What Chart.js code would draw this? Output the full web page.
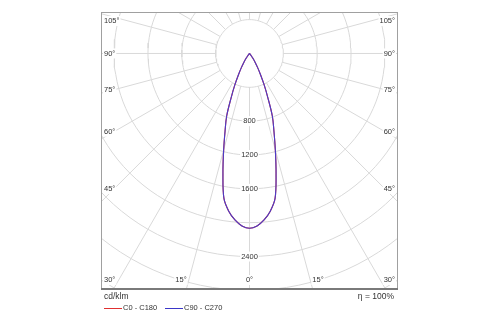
<!DOCTYPE html>
<html>
<head>
<meta charset="utf-8">
<script src="https://cdn.jsdelivr.net/npm/chart.js@4"></script>
<style>
  body { margin: 0; background: #fff; }
  canvas { display: block; }
</style>
</head>
<body>
<canvas id="polar" width="500" height="325"></canvas>
<script>
// gamma angle (deg) and intensity (cd/klm)
const gammaAngles = [0, 2.5, 5, 7.5, 10, 12.5, 15, 17.5, 20, 22.5, 25, 27.5, 30, 32.5, 35, 37.5, 40];
const intensityC0C180 = [2066, 2040, 1975, 1880, 1740, 1450, 1180, 960, 790, 570, 410, 280, 190, 125, 70, 30, 0];
const intensityC90C270 = [2066, 2040, 1975, 1880, 1740, 1450, 1180, 960, 790, 570, 410, 280, 190, 125, 70, 30, 0];

// grid
const ringValues = [400, 800, 1200, 1600, 2000, 2400, 2800, 3200, 3600, 4000];
const ringLabels = [800, 1200, 1600, 2400];
const spokeAngles = [0, 15, 30, 45, 60, 75, 90, 105, 120, 135, 150, 165, 180, 195, 210, 225, 240, 255, 270, 285, 300, 315, 330, 345];
const sideLabelAngles = [105, 90, 75, 60, 45];
const bottomLabelAngles = [30, 15, 0];

const unitLabel = "cd/klm";
const seriesNames = ["C0 - C180", "C90 - C270"];
const efficiencyLabel = "η = 100%";

const FONT = "Liberation Sans, Arial, sans-serif";
const TEXT = "#333";

function toXY(gamma, value) {
  const t = gamma * Math.PI / 180;
  return { x: value * Math.sin(t), y: -value * Math.cos(t) };
}

function curvePoints(values) {
  const pts = [];
  for (let i = gammaAngles.length - 1; i >= 0; i--) pts.push(toXY(-gammaAngles[i], values[i]));
  for (let i = 1; i < gammaAngles.length; i++) pts.push(toXY(gammaAngles[i], values[i]));
  return pts;
}

const gap = { x: NaN, y: NaN };

const ringPoints = [];
ringValues.forEach(function (r) {
  for (let a = 0; a <= 360; a += 3) ringPoints.push(toXY(a, r));
  ringPoints.push(gap);
});

const spokePoints = [];
spokeAngles.forEach(function (a) {
  spokePoints.push(toXY(a, ringValues[0]));
  spokePoints.push(toXY(a, 6000));
  spokePoints.push(gap);
});

const lineStyle = { showLine: true, pointRadius: 0, fill: false, tension: 0, spanGaps: false };
const curveStyle = { showLine: true, pointRadius: 0, fill: false, tension: 0.35, borderWidth: 1.1 };

const polarDecor = {
  id: "polarDecor",
  afterDatasetsDraw(chart) {
    const ctx = chart.ctx;
    const area = chart.chartArea;
    const sx = chart.scales.x, sy = chart.scales.y;
    const cx = sx.getPixelForValue(0);

    function label(text, x, y, align) {
      ctx.font = "7.5px " + FONT;
      const w = ctx.measureText(text).width;
      let left = align === "left" ? x : align === "right" ? x - w : x - w / 2;
      ctx.fillStyle = "#fff";
      ctx.fillRect(left - 1, y - 5, w + 2, 10);
      ctx.fillStyle = TEXT;
      ctx.textAlign = "left";
      ctx.textBaseline = "middle";
      ctx.fillText(text, left, y);
    }

    ctx.save();
    // intensity labels along the 0 deg spoke
    ringLabels.forEach(function (v) {
      label(String(v), cx, sy.getPixelForValue(-v), "center");
    });

    // side angle labels
    const xIn = Math.abs(sx.getValueForPixel(area.left + 13));
    sideLabelAngles.forEach(function (a) {
      const t = a * Math.PI / 180;
      const r = xIn / Math.sin(t);
      let y = sy.getPixelForValue(-r * Math.cos(t));
      y = Math.max(y, area.top + 9);
      label(a + "°", area.left + 3, y, "left");
      label(a + "°", area.right - 3, y, "right");
    });

    // bottom angle labels
    const yb = area.bottom - 8;
    bottomLabelAngles.forEach(function (a) {
      const t = a * Math.PI / 180;
      const r = -sy.min / Math.cos(t);
      const dx = r * Math.sin(t);
      ctx.font = "7.5px " + FONT;
      const w = ctx.measureText(a + "°").width;
      if (a === 0) {
        label(a + "°", cx, yb, "center");
      } else {
        const xl = Math.max(sx.getPixelForValue(-dx), area.left + 3 + w);
        const xr = Math.min(sx.getPixelForValue(dx), area.right - 3 - w);
        label(a + "°", xl, yb, "right");
        label(a + "°", xr, yb, "left");
      }
    });
    ctx.restore();
  },
  afterDraw(chart) {
    const ctx = chart.ctx;
    const area = chart.chartArea;
    ctx.save();
    ctx.strokeStyle = "#a0a0a0";
    ctx.lineWidth = 1;
    ctx.strokeRect(area.left + 0.5, area.top + 0.5, area.right - area.left - 1, area.bottom - area.top);
    ctx.strokeStyle = "#7a7a7a";
    ctx.lineWidth = 2;
    ctx.beginPath();
    ctx.moveTo(area.left, area.bottom + 1);
    ctx.lineTo(area.right, area.bottom + 1);
    ctx.stroke();

    // units, legend, efficiency
    ctx.fillStyle = TEXT;
    ctx.textBaseline = "middle";
    ctx.textAlign = "left";
    ctx.font = "8.5px " + FONT;
    ctx.fillText(unitLabel, area.left + 3, 297);
    ctx.textAlign = "right";
    ctx.fillText(efficiencyLabel, area.right - 4, 297);

    ctx.textAlign = "left";
    ctx.font = "7.5px " + FONT;
    const colors = ["#e03030", "#3a36c8"];
    const starts = [area.left + 3, area.left + 64];
    seriesNames.forEach(function (name, i) {
      ctx.strokeStyle = colors[i];
      ctx.lineWidth = 1;
      ctx.beginPath();
      ctx.moveTo(starts[i], 308.5);
      ctx.lineTo(starts[i] + 18, 308.5);
      ctx.stroke();
      ctx.fillStyle = TEXT;
      ctx.fillText(name, starts[i] + 19, 308);
    });
    ctx.restore();
  }
};

new Chart(document.getElementById("polar"), {
  type: "scatter",
  data: {
    datasets: [
      Object.assign({ label: seriesNames[1], data: curvePoints(intensityC90C270), borderColor: "#4a3cc8", order: 1 }, curveStyle),
      Object.assign({ label: seriesNames[0], data: curvePoints(intensityC0C180), borderColor: "#e03030", order: 2 }, curveStyle),
      Object.assign({ label: "spokes", data: spokePoints, borderColor: "#d9d9d9", borderWidth: 1, order: 3 }, lineStyle),
      Object.assign({ label: "rings", data: ringPoints, borderColor: "#d9d9d9", borderWidth: 1, order: 4 }, lineStyle),
    ],
  },
  options: {
    responsive: false,
    animation: false,
    layout: { padding: { left: 101, right: 102, top: 12, bottom: 37 } },
    plugins: { legend: { display: false }, tooltip: { enabled: false } },
    scales: {
      x: { type: "linear", min: -1755, max: 1755, display: false },
      y: { type: "linear", min: -2772, max: 490, display: false },
    },
  },
  plugins: [polarDecor],
});
</script>
</body>
</html>
